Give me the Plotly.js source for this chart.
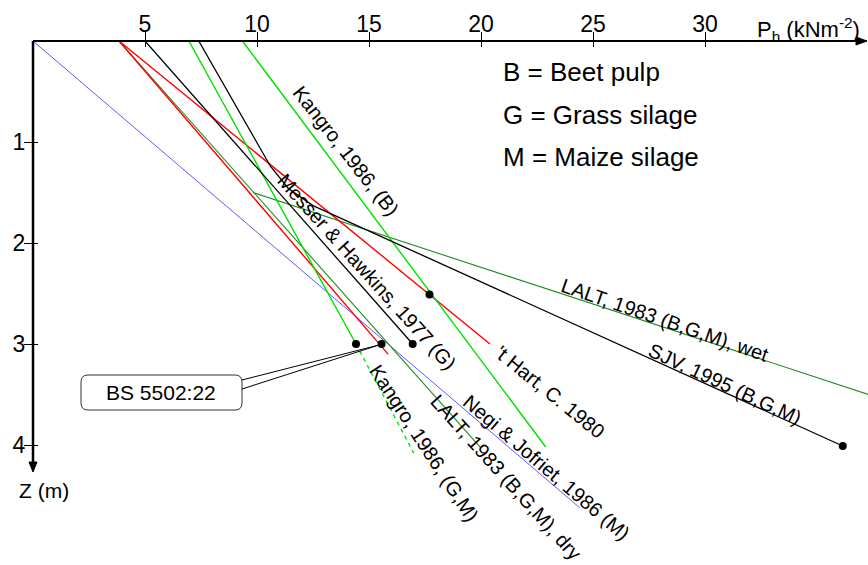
<!DOCTYPE html>
<html><head><meta charset="utf-8">
<script src="https://cdn.plot.ly/plotly-3.0.1.min.js"></script>
<style>html,body{margin:0;padding:0;background:#fff}</style>
</head><body><div id="chart" style="width:868px;height:565px"></div>
<script>
// Depth Z (m) and lateral pressure Ph (kN/m2)
const negiZ = [0, 4.62];        const negiP = [0, 24.4];
const hartZ = [0, 3.0];         const hartP = [3.84, 20.4];
const bsZ = [0, 3.1];           const bsP = [3.84, 15.85];
const laltDryZ = [0, 4.02];     const laltDryP = [3.84, 19.96];
const laltWetZ = [1.5, 3.5];    const laltWetP = [9.82, 37.3];
const messerZ = [0, 3.0];       const messerP = [5.0, 16.95];
const kangroGMZ = [0, 3.0];     const kangroGMP = [6.96, 14.42];
const kangroGMxZ = [3.0, 4.08]; const kangroGMxP = [14.42, 17.0];
const kangroBZ = [0, 4.02];     const kangroBP = [9.35, 22.89];
const sjvZ = [0, 1.24, 1.46, 1.63, 4.01];
const sjvP = [7.4, 10.6, 11.4, 12.5, 36.15];
const pointZ = [2.51, 3.0, 3.0, 3.0, 4.01];
const pointP = [17.7, 16.95, 14.42, 15.56, 36.15];
const xTicks = [5, 10, 15, 20, 25, 30];
const zTicks = [1, 2, 3, 4];
const legendLines = ['B = Beet pulp', 'G = Grass silage', 'M = Maize silage'];

const FONT = 'Liberation Sans, Arial, sans-serif';
const PXU = 22.4, PZU = 101, L = 33, T = 41, PW = 835, PH = 524;
const X = px => (px - L) / PXU;
const Z = py => (py - T) / PZU;
const xMax = X(868), zMax = Z(565);
// paper-space helpers (for decorations that must not be clipped)
const PP = (px, py) => ((px - L) / PW) + ',' + (1 - (py - T) / PH);

function line(p, z, color, width, dash) {
  return {x: p, y: z, type: 'scatter', mode: 'lines', hoverinfo: 'skip',
    line: {color: color, width: width || 1, dash: dash || 'solid'}, showlegend: false};
}
const traces = [
  line(negiP, negiZ, '#5a5aff', 1),
  line(laltDryP, laltDryZ, '#1e8c1e', 1.1),
  line(laltWetP, laltWetZ, '#1e8c1e', 1.1),
  line(bsP, bsZ, '#ff0000', 1.4),
  line(hartP, hartZ, '#ff0000', 1.4),
  line(kangroGMP, kangroGMZ, '#00e000', 1.4),
  line(kangroGMxP, kangroGMxZ, '#00e000', 1.4, '4px,4px'),
  line(kangroBP, kangroBZ, '#00e000', 1.4),
  line(messerP, messerZ, '#000000', 1.3),
  line(sjvP, sjvZ, '#000000', 1.3),
  {x: pointP, y: pointZ, type: 'scatter', mode: 'markers', hoverinfo: 'skip', showlegend: false,
    cliponaxis: false, marker: {color: '#000', size: 8}},
  {x: [], y: [], xaxis: 'x2', yaxis: 'y2', type: 'scatter', showlegend: false},
  {x: [], y: [], xaxis: 'x3', yaxis: 'y3', type: 'scatter', showlegend: false}
];

function lab(text, px, py, ang, size) {
  return {text: text, x: X(px), y: Z(py), xref: 'x', yref: 'y', showarrow: false,
    textangle: ang, font: {family: FONT, size: size || 20, color: '#000'}};
}
const annotations = [
  lab('Kangro, 1986, (B)', 346, 151, 52),
  lab('Messer &amp; Hawkins, 1977 (G)', 367, 272, 48),
  lab("'t Hart, C. 1980", 550, 392, 39),
  lab('LALT, 1983 (B,G,M), wet', 665, 320, 19),
  lab('SJV, 1995 (B,G,M)', 725, 384, 25),
  lab('Negi &amp; Jofriet, 1986 (M)', 546, 467, 40.5),
  lab('LALT, 1983 (B,G,M), dry', 506, 477, 48),
  lab('Kangro, 1986, (G,M)', 424, 443, 57),
  lab('BS 5502:22', 161, 392, 0, 21),
  {text: 'P<sub>h</sub> (kNm<sup>-2</sup>)', x: X(755), y: 1 + (T - 29) / PH, xref: 'x', yref: 'paper',
    xanchor: 'left', yanchor: 'middle', showarrow: false, font: {family: FONT, size: 22, color: '#000'}},
  {text: 'Z (m)', x: X(44), y: Z(490), xref: 'x', yref: 'y', showarrow: false,
    font: {family: FONT, size: 21, color: '#000'}}
];
legendLines.forEach((t, i) => {
  annotations.push({text: t, x: X(501), y: Z(72 + i * 42.5), xref: 'x', yref: 'y', xanchor: 'left',
    yanchor: 'middle', showarrow: false, font: {family: FONT, size: 26, color: '#000'}});
});

const P = (px, py) => X(px) + ',' + Z(py);
// rounded callout box
const bx0 = 81, bx1 = 242, by0 = 375, by1 = 410, r = 7;
const boxPath = 'M' + P(bx0 + r, by0) + ' L' + P(bx1 - r, by0) + ' Q' + P(bx1, by0) + ' ' + P(bx1, by0 + r) +
  ' L' + P(bx1, by1 - r) + ' Q' + P(bx1, by1) + ' ' + P(bx1 - r, by1) +
  ' L' + P(bx0 + r, by1) + ' Q' + P(bx0, by1) + ' ' + P(bx0, by1 - r) +
  ' L' + P(bx0, by0 + r) + ' Q' + P(bx0, by0) + ' ' + P(bx0 + r, by0) + ' Z';
const xArrow = 'M' + PP(867, 41) + ' L' + PP(856, 37) + ' L' + PP(856, 45) + ' Z';
const zArrow = 'M' + PP(33, 472) + ' L' + PP(29, 462) + ' L' + PP(37, 462) + ' Z';

const shapes = [
  {type: 'line', xref: 'paper', yref: 'paper', x0: 0, x1: (860 - L) / PW, y0: 1, y1: 1, line: {color: '#000', width: 2}},
  {type: 'line', xref: 'paper', yref: 'paper', x0: 0, x1: 0, y0: 1, y1: 1 - (464 - T) / PH, line: {color: '#000', width: 2.5}},
  {type: 'path', xref: 'paper', yref: 'paper', path: xArrow, fillcolor: '#000', line: {color: '#000', width: 1}},
  {type: 'path', xref: 'paper', yref: 'paper', path: zArrow, fillcolor: '#000', line: {color: '#000', width: 1}},
  {type: 'path', xref: 'x', yref: 'y', path: boxPath, fillcolor: '#fff', line: {color: '#333', width: 1}},
  {type: 'line', xref: 'x', yref: 'y', x0: X(242), y0: Z(380), x1: X(379), y1: Z(345), line: {color: '#000', width: 1}},
  {type: 'line', xref: 'x', yref: 'y', x0: X(242), y0: Z(389), x1: X(379), y1: Z(345), line: {color: '#000', width: 1}}
];

const axisBase = {showgrid: false, zeroline: false, showline: false, tickcolor: '#000', tickwidth: 1,
  tickfont: {family: FONT, size: 23, color: '#000'}, fixedrange: true};
const xa = o => Object.assign({}, axisBase, {range: [0, xMax], side: 'top', tickvals: xTicks}, o);
const ya = o => Object.assign({}, axisBase, {range: [zMax, 0], side: 'left', tickvals: zTicks}, o);
const layout = {
  width: 868, height: 565, paper_bgcolor: '#fff', plot_bgcolor: 'rgba(0,0,0,0)',
  margin: {l: L, r: 0, t: T, b: 0}, showlegend: false,
  xaxis: xa({ticks: 'outside', ticklen: 1, ticklabelstandoff: -2}),
  yaxis: ya({ticks: 'outside', ticklen: 4, ticklabelstandoff: -2}),
  xaxis2: xa({overlaying: 'x', anchor: 'y2', ticks: 'outside', ticklen: 8, showticklabels: false}),
  yaxis2: ya({overlaying: 'y', anchor: 'x2', ticks: 'outside', ticklen: 8, showticklabels: false}),
  xaxis3: xa({overlaying: 'x', anchor: 'y3', ticks: 'inside', ticklen: 6, showticklabels: false}),
  yaxis3: ya({overlaying: 'y', anchor: 'x3', ticks: 'inside', ticklen: 5, showticklabels: false}),
  annotations: annotations, shapes: shapes
};
Plotly.newPlot('chart', traces, layout, {displayModeBar: false, staticPlot: true});
</script></body></html>
